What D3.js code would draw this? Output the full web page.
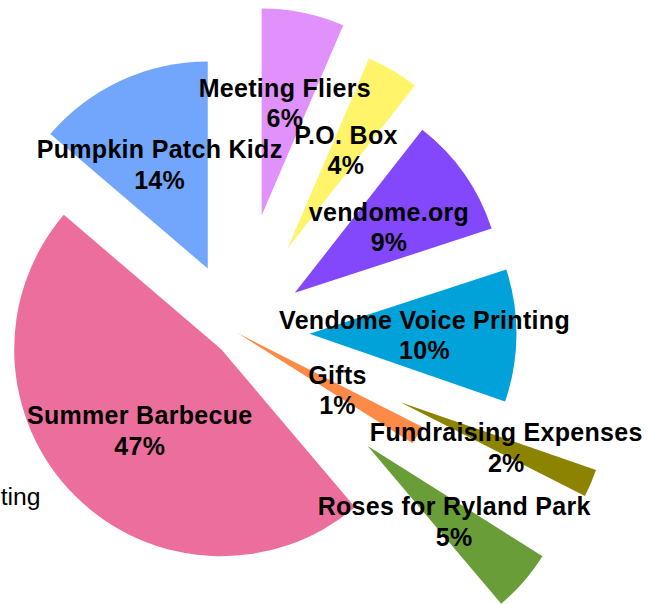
<!DOCTYPE html>
<html>
<head>
<meta charset="utf-8">
<script src="https://cdn.jsdelivr.net/npm/d3@7"></script>
<style>
  body { margin: 0; background: #fff; }
  svg { display: block; }
  .slice-label { font-family: "Liberation Sans", Arial, Helvetica, sans-serif; font-weight: bold; font-size: 25px; letter-spacing: 0.3px; fill: #000; }
  .side-text { font-family: "Liberation Sans", Arial, Helvetica, sans-serif; font-size: 24.7px; fill: #000; }
</style>
</head>
<body>
<script>
/* global d3 */
(function () {
  'use strict'

  // Expenses, clockwise from 12 o'clock
  var categories = [
    'Meeting Fliers',
    'P.O. Box',
    'vendome.org',
    'Vendome Voice Printing',
    'Fundraising Expenses',
    'Gifts',
    'Roses for Ryland Park',
    'Summer Barbecue',
    'Pumpkin Patch Kidz'
  ]
  var amounts = [645, 411, 942, 1033, 217, 147, 486, 4744, 1375]
  var colors = ['#e191fc', '#fff46a', '#8348fc', '#00a2d9', '#8c8300',
    '#fe8a48', '#689d38', '#ec6e9c', '#71a6fc']
  // how far each wedge is pulled out of the pie, in px
  var explode = [120, 98, 70, 72, 177, 0, 172, 23, 71]

  var dim = { w: 651, h: 604 }
  var center = { x: 237.5, y: 333 }
  var radius = 207
  var labelRadius = 115

  var total = d3.sum(amounts)
  var rows = categories.map(function (c, i) {
    return { name: c, value: amounts[i], color: colors[i], offset: explode[i] }
  })

  var svg = d3.select('body').append('svg')
    .attr('width', dim.w)
    .attr('height', dim.h)

  // text cut off at the left edge, as in the original
  svg.append('text')
    .attr('class', 'side-text')
    .attr('x', 40.5)
    .attr('y', 505)
    .attr('text-anchor', 'end')
    .text('Vendome Voice Printing')

  var pie = d3.pie()
    .sort(null)
    .value(function (d) { return d.value })

  var arc = d3.arc().innerRadius(0).outerRadius(radius)
  var labelArc = d3.arc().innerRadius(labelRadius).outerRadius(labelRadius)

  var arcs = pie(rows)

  function shift (d) {
    var a = (d.startAngle + d.endAngle) / 2
    return [Math.sin(a) * d.data.offset, -Math.cos(a) * d.data.offset]
  }

  var chart = svg.append('g')
    .attr('transform', 'translate(' + center.x + ',' + center.y + ')')

  chart.selectAll('.slice')
    .data(arcs)
    .enter().append('path')
      .attr('class', 'slice')
      .attr('d', arc)
      .attr('fill', function (d) { return d.data.color })
      .attr('transform', function (d) {
        var s = shift(d)
        return 'translate(' + s[0] + ',' + s[1] + ')'
      })

  var labels = chart.selectAll('.slice-label')
    .data(arcs)
    .enter().append('text')
      .attr('class', 'slice-label')
      .attr('text-anchor', 'middle')
      .attr('transform', function (d) {
        var s = shift(d)
        var c = labelArc.centroid(d)
        return 'translate(' + (c[0] + s[0]) + ',' + (c[1] + s[1]) + ')'
      })

  labels.append('tspan')
    .attr('x', 0)
    .attr('y', -6)
    .text(function (d) { return d.data.name })

  labels.append('tspan')
    .attr('x', 0)
    .attr('y', 24.5)
    .text(function (d) { return Math.round(d.data.value / total * 100) + '%' })
}())
</script>
</body>
</html>
